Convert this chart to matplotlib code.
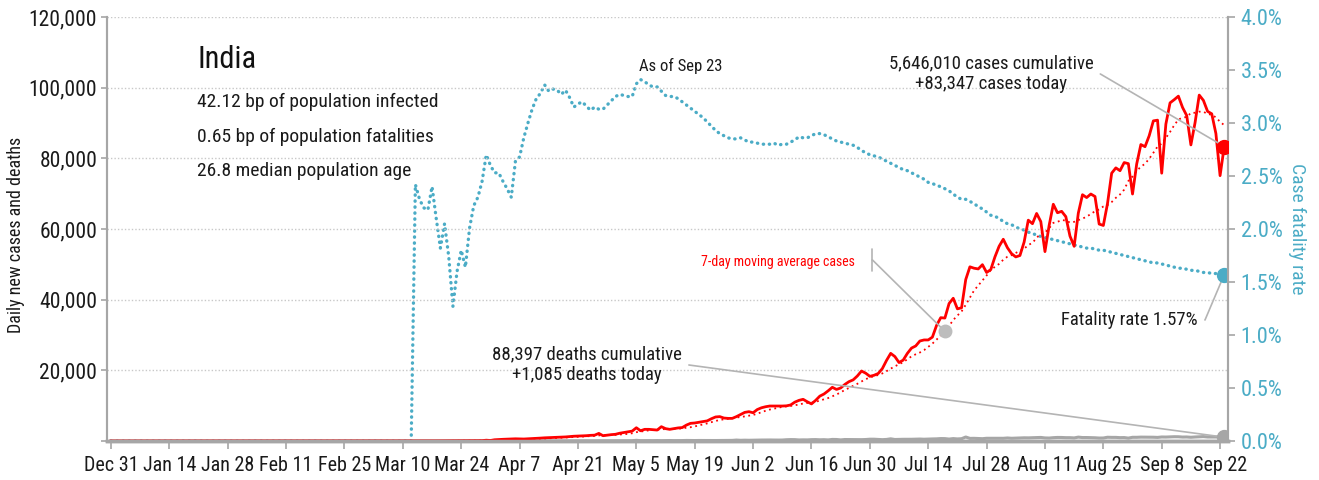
import numpy as np
import pandas as pd
import matplotlib
matplotlib.use("Agg")
import matplotlib.pyplot as plt
from matplotlib import font_manager as fm
from matplotlib.ticker import FuncFormatter, MultipleLocator

# pick a condensed font if one is installed
available = {f.name for f in fm.fontManager.ttflist}
for fam in ["Roboto Condensed", "Liberation Sans Narrow", "Open Sans Condensed", "DejaVu Sans"]:
    if fam in available:
        break
plt.rcParams["font.family"] = fam
if fam == "DejaVu Sans":
    plt.rcParams["font.stretch"] = "condensed"

# ---- data (daily, Dec 31 2019 .. Sep 23 2020) ----
start_date = "2019-12-31"
days_before_march = 61  # Dec 31 .. Feb 29, nothing visible

cases_mar = [2, 1, 1, 22, 2, 1, 3, 5, 9, 15, 8, 10, 10, 12, 22, 17, 26, 26, 35, 48,
             67, 93, 71, 95, 87, 77, 96, 100, 106, 227, 146]
cases_apr = [350, 420, 480, 520, 560, 620, 580, 560, 620, 700, 760, 820, 900, 940, 1000,
             1050, 1100, 1150, 1250, 1350, 1400, 1450, 1500, 1600, 1650, 2150, 1500, 1650, 1800, 1900]
cases_may = [2200, 2400, 2600, 2800, 3750, 2900, 3300, 3300, 3200, 3100, 4050, 3500, 3300, 3500,
             3700, 3800, 4500, 5000, 5100, 5300, 5500, 5700, 6300, 6800, 6900, 6500, 6400, 6400,
             6900, 7500, 8100]
cases_jun = [8300, 8000, 8900, 9400, 9700, 9900, 9900, 9900, 9900, 9950, 10200, 11000, 11500,
             11800, 11100, 10500, 11500, 12700, 13300, 14200, 15200, 14600, 15000, 16000, 16800,
             17300, 18400, 19800, 19200, 18300]
cases_jul = [18600, 19100, 20500, 22800, 24800, 23900, 22200, 22900, 24800, 26300, 26900, 28300,
             28600, 28600, 29400, 32700, 34900, 34800, 38900, 40400, 37400, 37700, 45700, 49300,
             48900, 48700, 49900, 47700, 48500, 52100, 55100]
cases_aug = [57100, 54700, 53000, 52100, 52500, 56300, 62500, 61500, 64400, 62100, 53600, 61000,
             67000, 64600, 65000, 63500, 58000, 55100, 64500, 69700, 68900, 69900, 69200, 61400,
             61000, 67200, 75800, 77300, 76500, 78800, 78500]
cases_sep = [69900, 78400, 83900, 83300, 86400, 90600, 90800, 75800, 89700, 95700, 96600, 97600,
             94400, 92100, 83800, 90100, 97900, 96400, 93300, 92600, 87000, 75100, 83347]

deaths_mar = [0, 0, 0, 0, 0, 0, 0, 0, 0, 0, 0, 1, 0, 1, 0, 0, 1, 0, 1, 0, 1, 1, 3, 1, 2, 4,
              3, 5, 4, 11, 6]
deaths_apr = [3, 20, 12, 13, 15, 16, 36, 9, 35, 16, 40, 35, 26, 35, 38, 26, 23, 36, 31, 35,
              50, 40, 51, 35, 57, 51, 50, 60, 71, 71]
deaths_may = [77, 74, 70, 83, 195, 89, 103, 111, 96, 128, 87, 121, 136, 101, 103, 119, 157, 134,
              128, 148, 131, 140, 154, 137, 146, 170, 194, 175, 265, 193, 230]
deaths_jun = [204, 217, 260, 271, 294, 287, 261, 261, 274, 357, 396, 386, 297, 325, 311, 380,
              400, 341, 375, 306, 445, 426, 312, 418, 410, 384, 410, 380, 418, 506]
deaths_jul = [507, 434, 379, 442, 613, 425, 467, 482, 475, 487, 519, 551, 500, 553, 582, 606,
              687, 671, 543, 681, 587, 648, 1129, 740, 757, 705, 654, 768, 775, 779, 768]
deaths_aug = [764, 853, 771, 803, 857, 904, 886, 933, 1007, 1007, 871, 834, 942, 1007, 996, 944,
              941, 876, 1092, 977, 983, 945, 912, 836, 848, 1059, 1023, 1021, 948, 971, 819]
deaths_sep = [1045, 1043, 1096, 1089, 1089, 1065, 1016, 1133, 1115, 1172, 1209, 1201, 1114, 1136,
              1054, 1132, 1174, 1247, 1133, 1130, 1130, 1053, 1085]

# case fatality rate in percent
cfr_mar = [0, 0, 0, 0, 0, 0, 0, 0, 0, 0, 0, 0, 2.42, 2.28, 2.20, 2.18, 2.40, 2.10, 1.82, 2.05,
           1.74, 1.27, 1.60, 1.80, 1.64, 2.01, 2.22, 2.30, 2.45, 2.70, 2.60]
cfr_apr = [2.53, 2.53, 2.45, 2.38, 2.30, 2.64, 2.68, 2.86, 3.00, 3.13, 3.23, 3.28, 3.36, 3.30,
           3.32, 3.31, 3.27, 3.31, 3.24, 3.15, 3.18, 3.20, 3.16, 3.12, 3.15, 3.13, 3.13, 3.17,
           3.21, 3.25]
cfr_may = [3.27, 3.26, 3.25, 3.25, 3.37, 3.41, 3.39, 3.36, 3.34, 3.34, 3.30, 3.26, 3.25, 3.25,
           3.23, 3.20, 3.17, 3.14, 3.11, 3.08, 3.05, 3.01, 2.97, 2.93, 2.90, 2.88, 2.86, 2.85,
           2.85, 2.86, 2.84]
cfr_jun = [2.82, 2.82, 2.81, 2.80, 2.80, 2.80, 2.81, 2.79, 2.80, 2.80, 2.82, 2.84, 2.87, 2.86,
           2.86, 2.88, 2.90, 2.90, 2.89, 2.87, 2.85, 2.83, 2.82, 2.81, 2.80, 2.79, 2.77, 2.74,
           2.72, 2.70]
cfr_jul = [2.69, 2.68, 2.66, 2.64, 2.62, 2.60, 2.58, 2.56, 2.55, 2.53, 2.51, 2.49, 2.47, 2.44,
           2.43, 2.41, 2.40, 2.38, 2.36, 2.33, 2.30, 2.28, 2.28, 2.26, 2.24, 2.21, 2.19, 2.16,
           2.13, 2.12, 2.10]
cfr_aug = [2.07, 2.05, 2.04, 2.02, 2.00, 1.99, 1.97, 1.96, 1.94, 1.93, 1.92, 1.91, 1.90, 1.89,
           1.88, 1.87, 1.86, 1.85, 1.84, 1.83, 1.82, 1.82, 1.81, 1.80, 1.80, 1.79, 1.78, 1.77,
           1.76, 1.75, 1.74]
cfr_sep = [1.73, 1.72, 1.71, 1.70, 1.69, 1.68, 1.68, 1.67, 1.66, 1.65, 1.64, 1.63, 1.63, 1.62,
           1.61, 1.61, 1.60, 1.59, 1.59, 1.58, 1.58, 1.57, 1.57]

lead = [0] * days_before_march
cases = np.array(lead + cases_mar + cases_apr + cases_may + cases_jun + cases_jul + cases_aug + cases_sep, float)
deaths = np.array(lead + deaths_mar + deaths_apr + deaths_may + deaths_jun + deaths_jul + deaths_aug + deaths_sep, float)
cfr = np.array(lead + cfr_mar + cfr_apr + cfr_may + cfr_jun + cfr_jul + cfr_aug + cfr_sep, float) / 100

dates = pd.date_range(start_date, periods=len(cases), freq="D")
cases_ma = pd.Series(cases).rolling(7, min_periods=1).mean().values
ma_marker_date = pd.Timestamp("2020-07-18")
ma_idx = int((ma_marker_date - dates[0]).days)

# ---- styling ----
RED = "#ff0000"
TEAL = "#4bacc6"
GREY = "#a6a6a6"
LIGHT = "#b4b4b4"
W, H = 1319, 480

fig = plt.figure(figsize=(W / 100, H / 100), dpi=100)
ax = fig.add_axes([107 / W, 1 - 441 / H, (1228 - 107) / W, (441 - 17) / H])
ax2 = ax.twinx()
ax.set_zorder(ax2.get_zorder() + 1)
ax.patch.set_visible(False)

# fatality rate (right axis)
ax2.plot(dates, cfr, color=TEAL, lw=2.4, linestyle=(0, (0.1, 1.7)), dash_capstyle="round")
ax2.plot(dates[-1], cfr[-1], "o", color=TEAL, ms=10, zorder=5)

# cases and deaths (left axis)
ax.plot(dates, deaths, color=GREY, lw=2.2)
ax.plot(dates, cases_ma, color=RED, lw=1.3, linestyle=(0, (1, 2)))
ax.plot(dates, cases, color=RED, lw=2.0)
ax.plot(dates[-1], cases[-1], "o", color=RED, ms=10, zorder=5)
ax.plot(dates[-1], deaths[-1], "o", color=GREY, ms=10, zorder=5)
ax.plot(dates[ma_idx], cases_ma[ma_idx], "o", color="#bdbdbd", ms=9, zorder=5)

# axes limits and ticks
x0 = pd.Timestamp(start_date)
ax.set_xlim(x0 - pd.Timedelta(days=0.96), dates[-1] + pd.Timedelta(days=0.9))
ax.set_ylim(0, 120000)
ax2.set_ylim(0, 0.04)

tick_dates = pd.date_range(start_date, "2020-09-22", freq="14D")
ax.set_xticks(tick_dates)
ax.set_xticklabels([f"{d:%b} {d.day}" for d in tick_dates])
ax.yaxis.set_major_locator(MultipleLocator(20000))
ax.yaxis.set_major_formatter(FuncFormatter(lambda v, p: "" if v == 0 else f"{v:,.0f}"))
ax2.yaxis.set_major_locator(MultipleLocator(0.005))
ax2.yaxis.set_major_formatter(FuncFormatter(lambda v, p: f"{v * 100:.1f}%"))

ax.grid(axis="y", linestyle=(0, (1, 1.5)), color="#c8c8c8", lw=1)
ax.tick_params(axis="x", length=6, width=1.2, color=GREY, labelsize=14.5, pad=5, labelcolor="#1a1a1a")
ax.tick_params(axis="y", length=4, width=1.2, color=GREY, labelsize=15.5, pad=3, labelcolor="#1a1a1a")
ax2.tick_params(axis="y", length=5, width=1.2, color=GREY, labelsize=16, pad=4, labelcolor=TEAL)

for a in (ax, ax2):
    a.spines["top"].set_visible(False)
    for s in ("left", "right"):
        a.spines[s].set_color(GREY)
        a.spines[s].set_linewidth(1.5)
    a.spines["bottom"].set_color(GREY)
    a.spines["bottom"].set_linewidth(2.5)

ax.set_ylabel("Daily new cases and deaths", fontsize=13, color="#1a1a1a")
ax.yaxis.set_label_coords(-0.073, 0.485)
ax2.set_ylabel("Case fatality rate", fontsize=14, color=TEAL, rotation=270, va="bottom", labelpad=4)

# header text
fig.text(197 / W, 1 - 60 / H, "India", fontsize=22, va="center", ha="left", color="#111111")
stats = ["42.12 bp of population infected", "0.65 bp of population fatalities", "26.8 median population age"]
for i, s in enumerate(stats):
    fig.text(197 / W, 1 - (102 + 34.5 * i) / H, s, fontsize=14, va="center", ha="left", color="#1a1a1a")
fig.text(681 / W, 1 - 66 / H, "As of Sep 23", fontsize=12, va="center", ha="center", color="#1a1a1a")

# annotations
conn = "arc,angleA=0,armA=7,angleB=0,armB=0,rad=0"
ax.annotate("5,646,010 cases cumulative\n+83,347 cases today", xy=(dates[-1], cases[-1]),
            xytext=(991, H - 74), textcoords="figure pixels", ha="center", va="center",
            fontsize=13.5, color="#1a1a1a",
            arrowprops=dict(arrowstyle="-", color=LIGHT, lw=1.2, relpos=(1, 0.5),
                            shrinkA=3, shrinkB=0, connectionstyle=conn))
ax.annotate("88,397 deaths cumulative\n+1,085 deaths today", xy=(dates[-1], deaths[-1]),
            xytext=(587, H - 365), textcoords="figure pixels", ha="center", va="center",
            fontsize=13.5, color="#1a1a1a",
            arrowprops=dict(arrowstyle="-", color=LIGHT, lw=1.2, relpos=(1, 0.5),
                            shrinkA=3, shrinkB=0, connectionstyle=conn))
ax2.annotate("Fatality rate 1.57%", xy=(dates[-1], cfr[-1]),
             xytext=(1198, H - 320), textcoords="figure pixels", ha="right", va="center",
             fontsize=13.5, color="#1a1a1a",
             arrowprops=dict(arrowstyle="-", color=LIGHT, lw=1.2, relpos=(1, 0.5),
                             shrinkA=3, shrinkB=0, connectionstyle=conn))
fig.text(855 / W, 1 - 262 / H, "7-day moving average cases", fontsize=10, color=RED,
         ha="right", va="center")
ax.annotate("", xy=(dates[ma_idx], cases_ma[ma_idx]), xytext=(872, H - 260), textcoords="figure pixels",
            arrowprops=dict(arrowstyle="]-,widthA=0.8,lengthA=0", color=LIGHT, lw=1.2,
                            shrinkA=0, shrinkB=0,
                            connectionstyle="arc,angleA=0,armA=0.5,angleB=0,armB=0,rad=0"))

fig.savefig("out.png", dpi=100)
